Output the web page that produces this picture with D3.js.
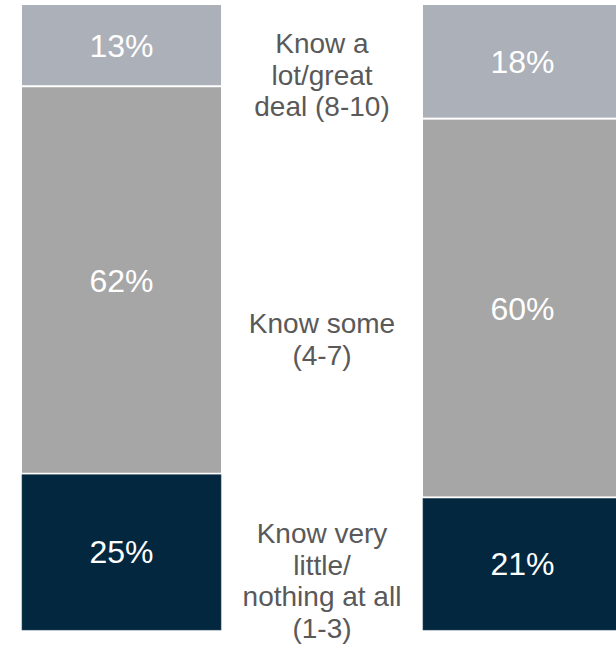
<!DOCTYPE html>
<html>
<head>
<meta charset="utf-8">
<script src="https://cdn.jsdelivr.net/npm/d3@7"></script>
<style>
  html, body { margin: 0; padding: 0; background: #ffffff; overflow: hidden; }
  svg { display: block; }
</style>
</head>
<body>
<svg id="chart" width="616" height="652"></svg>
<script>
// ---- data ----
const bars = ["Group A", "Group B"];
const segments = ["little", "some", "lot"];           // bottom -> top
const littleValues = [25, 21];
const someValues = [62, 60];
const lotValues = [13, 18];
const segmentLabels = [
  ["Know very", "little/", "nothing at all", "(1-3)"],
  ["Know some", "(4-7)"],
  ["Know a", "lot/great", "deal (8-10)"]
];
const segmentColors = ["#02273f", "#a6a6a6", "#acb0b8"];

// ---- layout ----
const W = 616, H = 652;
const svg = d3.select("#chart");

const rows = bars.map((b, i) => ({
  bar: b,
  little: littleValues[i],
  some: someValues[i],
  lot: lotValues[i]
}));

const stack = d3.stack().keys(segments).offset(d3.stackOffsetExpand);
const series = stack(rows);

const x = d3.scaleBand().domain(bars).range([22, 622]).paddingInner(0.5037).paddingOuter(0);
const y = d3.scaleLinear().domain([0, 1]).range([630, 5]);

const gap = 1; // half of white separator

const g = svg.append("g");
series.forEach((s, si) => {
  g.selectAll(null)
    .data(s)
    .enter()
    .append("rect")
    .attr("x", d => x(d.data.bar))
    .attr("width", x.bandwidth())
    .attr("y", d => y(d[1]) + (d[1] < 1 ? gap : 0))
    .attr("height", d => (y(d[0]) - y(d[1])) - (d[1] < 1 ? gap : 0) - (d[0] > 0 ? gap : 0))
    .attr("fill", segmentColors[si])
    .attr("stroke", si === 0 ? "#2c4a5f" : "none")
    .attr("stroke-width", si === 0 ? 0.6 : 0);

  g.selectAll(null)
    .data(s)
    .enter()
    .append("text")
    .attr("x", d => x(d.data.bar) + x.bandwidth() / 2)
    .attr("y", d => (y(d[0]) + y(d[1])) / 2)
    .attr("dy", "0.36em")
    .attr("text-anchor", "middle")
    .attr("font-family", "'Liberation Sans', Arial, sans-serif")
    .attr("font-size", 32)
    .attr("fill", "#ffffff")
    .text(d => d.data[segments[si]] + "%");
});

// category labels between the bars
const midX = (x(bars[0]) + x.bandwidth() + x(bars[1])) / 2;
const lineH = 31.5;
const firstBaselines = [543, 333, 53];
segmentLabels.forEach((lines, si) => {
  const t = svg.append("text")
    .attr("text-anchor", "middle")
    .attr("font-family", "'Liberation Sans', Arial, sans-serif")
    .attr("font-size", 28)
    .attr("fill", "#595959");
  lines.forEach((ln, li) => {
    t.append("tspan")
      .attr("x", midX)
      .attr("y", firstBaselines[si] + li * lineH)
      .text(ln);
  });
});
</script>
</body>
</html>
